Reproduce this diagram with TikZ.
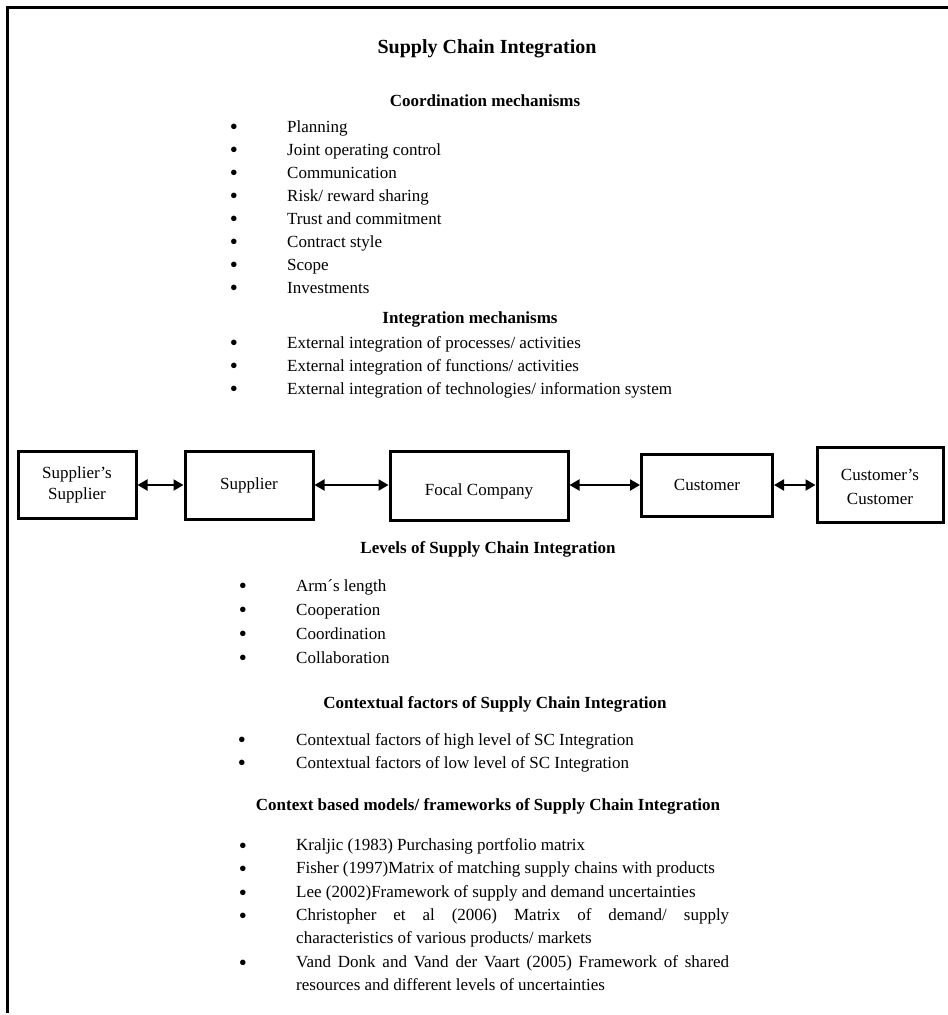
\documentclass[tikz,border=0pt]{standalone}
\usepackage{fontspec}
\setmainfont{Liberation Serif}
\usetikzlibrary{arrows.meta, positioning}
\definecolor{lineBlack}{HTML}{000000}
\newcommand{\fontTitle}{\fontsize{20}{24}\selectfont\bfseries}
\newcommand{\fontHead}{\fontsize{17}{21}\selectfont\bfseries}
\newcommand{\fontItem}{\fontsize{17}{23}\selectfont}
\newcommand{\fontPara}{\fontItem\hyphenpenalty=10000 \tolerance=10000\relax}
\tikzset{
  arrowB/.style={{Triangle[length=10pt,width=11pt]}-{Triangle[length=10pt,width=11pt]},
                 lineBlack, line width=2pt},
  boxE/.style={rectangle, draw=lineBlack, line width=3pt, align=center,
               font=\fontsize{17}{21}\selectfont, inner sep=0pt},
  headT/.style={font=\fontTitle, anchor=base, inner sep=0pt},
  headB/.style={font=\fontHead, anchor=base, inner sep=0pt},
  dotB/.style={font=\fontsize{23}{23}\selectfont, anchor=base, inner sep=0pt},
  itemL/.style={font=\fontItem, anchor=base west, inner sep=0pt},
  itemW/.style={font=\fontPara, anchor=north west,
                inner sep=0pt, text width=433pt, align=justify},
}
\begin{document}
\begin{tikzpicture}[x=1pt, y=-1pt]
  \useasboundingbox (0,0) rectangle (948,1015);
  % frame: top and left edge only
  \draw[lineBlack, line width=3pt] (948,7) -- (7,7) -- (7,1013);

  \node[headT] (title) at (487,53) {Supply Chain Integration};

  % coordination mechanisms
  \node[headB] (coordH) at (485,106) {Coordination mechanisms};
  \foreach \txt [count=\i] in {Planning, Joint operating control, Communication,
      Risk/ reward sharing, Trust and commitment, Contract style, Scope, Investments}
  {
    \node[dotB] (cb\i) at (234,{134+23*(\i-1)}) {\textbullet};
    \node[itemL] (c\i) at (287,{132+23*(\i-1)}) {\txt};
  }

  % integration mechanisms
  \node[headB] (integH) at (470,323) {Integration mechanisms};
  \foreach \txt [count=\i] in {External integration of processes/ activities,
      External integration of functions/ activities,
      External integration of technologies/ information system}
  {
    \node[dotB] (ib\i) at (234,{350+23*(\i-1)}) {\textbullet};
    \node[itemL] (i\i) at (287,{348+23*(\i-1)}) {\txt};
  }

  % supply chain
  \node[boxE, minimum width=118pt, minimum height=67pt] (ss) at (77,485) {Supplier’s\\Supplier};
  \node[boxE, minimum width=128pt, minimum height=68pt] (sup) at (249,485) {Supplier};
  \node[boxE, minimum width=178pt, minimum height=69pt] (focal) at (479,486)
       {\raisebox{-5pt}[\height][\depth]{Focal Company}};
  \node[boxE, minimum width=131pt, minimum height=62pt] (cust) at (707,485) {Customer};
  \node[boxE, minimum width=126pt, minimum height=75pt] (cc) at (880,485)
       {\raisebox{-3pt}[\height][\depth]{\begin{tabular}{@{}c@{}}Customer’s\\[3pt]Customer\end{tabular}}};
  \draw[arrowB] (ss.east) -- (ss.east -| sup.west);
  \draw[arrowB] (sup.east) -- (sup.east -| focal.west);
  \draw[arrowB] (focal.east |- cust.west) -- (cust.west);
  \draw[arrowB] (cust.east) -- (cust.east -| cc.west);

  % levels
  \node[headB] (levH) at (488,553) {Levels of Supply Chain Integration};
  \foreach \txt [count=\i] in {Arm´s length, Cooperation, Coordination, Collaboration}
  {
    \node[dotB] (lb\i) at (243,{593+24*(\i-1)}) {\textbullet};
    \node[itemL] (l\i) at (296,{591+24*(\i-1)}) {\txt};
  }

  % contextual factors
  \node[headB] (ctxH) at (495,708) {Contextual factors of Supply Chain Integration};
  \foreach \txt [count=\i] in {Contextual factors of high level of SC Integration,
      Contextual factors of low level of SC Integration}
  {
    \node[dotB] (fb\i) at (242,{747+23*(\i-1)}) {\textbullet};
    \node[itemL] (f\i) at (296,{745+23*(\i-1)}) {\txt};
  }

  % models / frameworks
  \node[headB] (modH) at (488,810) {Context based models/ frameworks of Supply Chain Integration};
  \node[dotB] (mb1) at (243,853) {\textbullet};
  \node[itemW] (m1) at (296,838) {Kraljic (1983) Purchasing portfolio matrix};
  \node[dotB] (mb2) at (243,876) {\textbullet};
  \node[itemW] (m2) at (296,861) {Fisher (1997)Matrix of matching supply chains with products};
  \node[dotB] (mb3) at (243,900) {\textbullet};
  \node[itemW] (m3) at (296,885) {Lee (2002)Framework of supply and demand uncertainties};
  \node[dotB] (mb4) at (243,923) {\textbullet};
  \node[itemW] (m4) at (296,908) {Christopher et al (2006) Matrix of demand/ supply\linebreak characteristics of various products/ markets};
  \node[dotB] (mb5) at (243,970) {\textbullet};
  \node[itemW] (m5) at (296,955) {Vand Donk and Vand der Vaart (2005) Framework of shared\linebreak resources and different levels of uncertainties};
\end{tikzpicture}
\end{document}
